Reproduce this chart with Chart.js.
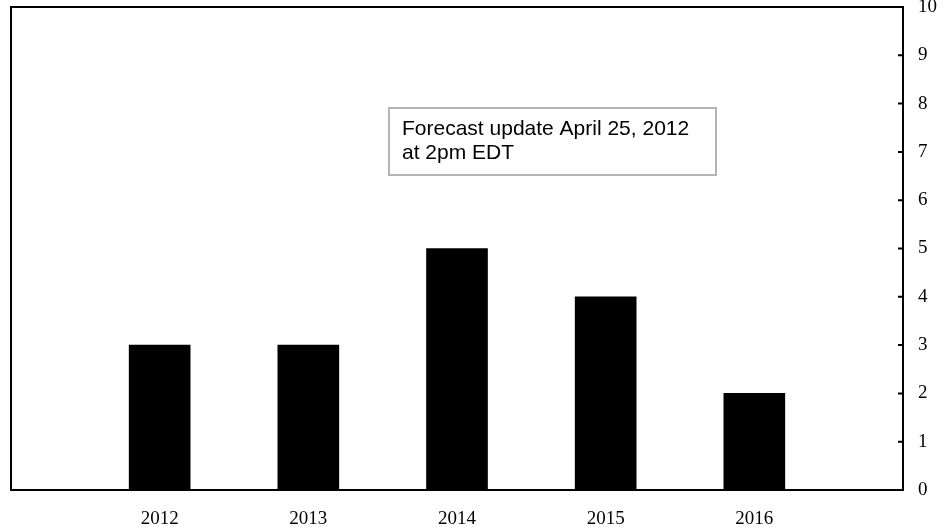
<!DOCTYPE html>
<html>
<head>
<meta charset="utf-8">
<script src="https://cdn.jsdelivr.net/npm/chart.js@4"></script>
<style>
  html, body { margin: 0; padding: 0; background: #fff; }
  #wrap { width: 947px; height: 527px; }
</style>
</head>
<body>
<div id="wrap"><canvas id="chart" width="947" height="527"></canvas></div>
<script>
// empty first/last slots keep the bars away from the frame edges
const years = ['', '2012', '2013', '2014', '2015', '2016', ''];
const values = [null, 3, 3, 5, 4, 2, null];
const yTicks = [0, 1, 2, 3, 4, 5, 6, 7, 8, 9, 10];
const noteLines = ['Forecast update April 25, 2012', 'at 2pm EDT'];

// frame round the plot area plus short inward ticks on the right axis
const framePlugin = {
    id: 'frame',
    afterDatasetsDraw(chart) {
        const ctx = chart.ctx;
        const a = chart.chartArea;
        const y = chart.scales.y;
        ctx.save();
        ctx.strokeStyle = '#000';
        ctx.lineWidth = 2;
        ctx.strokeRect(a.left, a.top, a.right - a.left, a.bottom - a.top);
        ctx.beginPath();
        yTicks.forEach(v => {
            const py = y.getPixelForValue(v);
            ctx.moveTo(a.right - 5, py);
            ctx.lineTo(a.right, py);
        });
        ctx.stroke();
        ctx.restore();
    }
};

const notePlugin = {
    id: 'note',
    afterDraw(chart) {
        const ctx = chart.ctx;
        ctx.save();
        ctx.fillStyle = '#fff';
        ctx.fillRect(389, 108, 327, 67);
        ctx.strokeStyle = '#b4b4b4';
        ctx.lineWidth = 2;
        ctx.strokeRect(389, 108, 327, 67);
        ctx.fillStyle = '#000';
        ctx.font = '21px "Liberation Sans", Arial, sans-serif';
        ctx.textBaseline = 'alphabetic';
        ctx.fillText(noteLines[0], 402, 135);
        ctx.fillText(noteLines[1], 402, 159);
        ctx.restore();
    }
};

const serif = { family: '"Liberation Serif", "Times New Roman", serif', size: 19 };

new Chart(document.getElementById('chart').getContext('2d'), {
    type: 'bar',
    data: {
        labels: years,
        datasets: [{
            data: values,
            backgroundColor: '#000',
            borderWidth: 0,
            barThickness: 61
        }]
    },
    options: {
        responsive: false,
        animation: false,
        layout: { padding: { left: 11, top: 7, right: 0, bottom: 0 } },
        plugins: { legend: { display: false }, tooltip: { enabled: false } },
        scales: {
            x: {
                offset: false,
                grid: { display: false, offset: false, drawTicks: false },
                border: { display: false },
                ticks: { color: '#000', font: serif, padding: 18, autoSkip: false, maxRotation: 0 },
                afterFit(scale) {
                    scale.height = 37;
                    scale.paddingLeft = 0;
                    scale.paddingRight = 0;
                }
            },
            y: {
                position: 'right',
                min: 0,
                max: 10,
                grid: { display: false, drawTicks: false },
                border: { display: false },
                ticks: { stepSize: 1, color: '#000', font: serif, padding: 15 },
                afterFit(scale) {
                    scale.width = 44;
                    scale.paddingTop = 0;
                    scale.paddingBottom = 0;
                }
            }
        }
    },
    plugins: [framePlugin, notePlugin]
});
</script>
</body>
</html>
